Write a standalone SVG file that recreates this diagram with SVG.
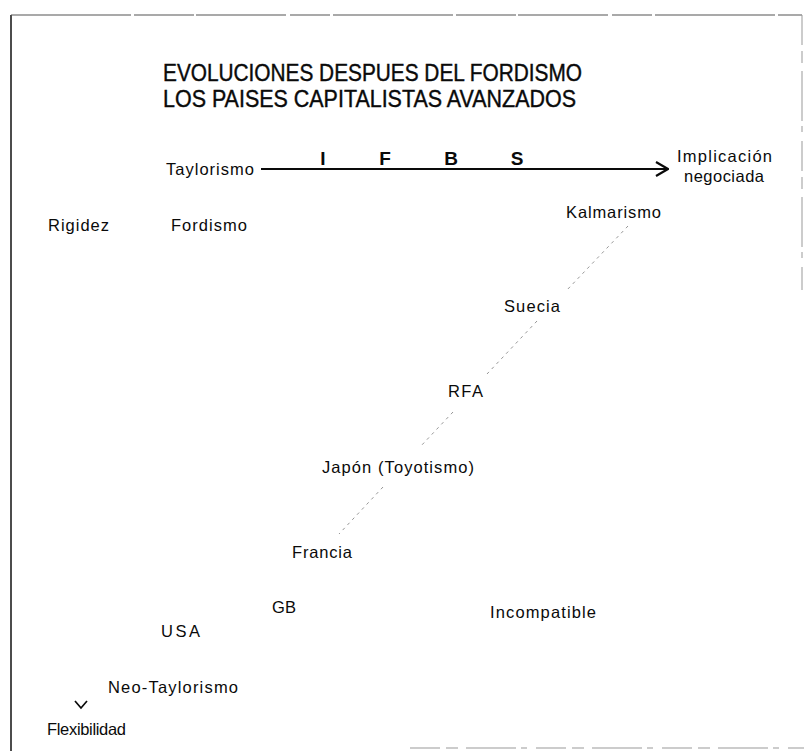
<svg xmlns="http://www.w3.org/2000/svg" width="804" height="751" viewBox="0 0 804 751">
<style>
  text { font-family: "Liberation Sans", Arial, sans-serif; fill: #0a0a0a; }
  .title { font-size: 23px; stroke: #0a0a0a; stroke-width: 0.4; }
  .lbl { font-size: 16.5px; }
  .big { font-size: 19px; font-weight: bold; }
  .frame { stroke: #111; stroke-width: 1.5; fill: none; }
  .frame-faint { stroke: #555; stroke-width: 1.1; fill: none; stroke-dasharray: 120 3 60 2 90 4 40 3; }
  .frame-light { stroke: #999; stroke-width: 1; fill: none; stroke-dasharray: 30 6 12 8 50 5 6 9; }
  .trend { stroke: #8a8a8a; stroke-width: 0.9; fill: none; stroke-dasharray: 3 4; }
  .axis { stroke: #0a0a0a; stroke-width: 2; fill: none; }
</style>
<defs>
  <marker id="open" viewBox="0 0 14 16" refX="13" refY="8" markerWidth="14" markerHeight="16" markerUnits="userSpaceOnUse" orient="auto">
    <polyline points="1,1 13,8 1,15" fill="none" stroke="#0a0a0a" stroke-width="2.2"/>
  </marker>
</defs>
<rect width="804" height="751" fill="#fff"/>

<g id="frame">
  <line class="frame" x1="11" y1="15" x2="11" y2="751"/>
  <line class="frame-faint" x1="11" y1="15" x2="802" y2="15"/>
  <line class="frame-light" x1="802" y1="15" x2="802" y2="290"/>
  <line class="frame-light" x1="410" y1="748" x2="804" y2="748"/>
</g>

<g id="title">
  <text class="title" x="163" y="81" textLength="419" lengthAdjust="spacingAndGlyphs">EVOLUCIONES DESPUES DEL FORDISMO</text>
  <text class="title" x="163" y="107" textLength="413" lengthAdjust="spacingAndGlyphs">LOS PAISES CAPITALISTAS AVANZADOS</text>
</g>

<g id="connectors">
  <line class="axis" x1="261" y1="169" x2="668" y2="169" marker-end="url(#open)"/>
  <polyline class="trend" points="628,226 566,291"/>
  <polyline class="trend" points="537,321 487,374"/>
  <polyline class="trend" points="453,412 420,447"/>
  <polyline class="trend" points="383,487 339,534"/>
  <polyline points="75,701 81,708 87,701" fill="none" stroke="#0a0a0a" stroke-width="1.7"/>
</g>

<g id="n-taylorismo"><text class="lbl" x="166" y="175" textLength="88">Taylorismo</text></g>
<g id="n-I"><text class="big" x="323" y="165" text-anchor="middle">I</text></g>
<g id="n-F"><text class="big" x="385" y="165" text-anchor="middle">F</text></g>
<g id="n-B"><text class="big" x="451" y="165" text-anchor="middle">B</text></g>
<g id="n-S"><text class="big" x="517" y="165" text-anchor="middle">S</text></g>
<g id="n-implicacion">
  <text class="lbl" x="677" y="162" textLength="95">Implicación</text>
  <text class="lbl" x="684" y="182" textLength="80">negociada</text>
</g>
<g id="n-rigidez"><text class="lbl" x="48" y="231" textLength="61">Rigidez</text></g>
<g id="n-fordismo"><text class="lbl" x="171" y="231" textLength="76">Fordismo</text></g>
<g id="n-kalmarismo"><text class="lbl" x="566" y="218" textLength="95">Kalmarismo</text></g>
<g id="n-suecia"><text class="lbl" x="504" y="312" textLength="56">Suecia</text></g>
<g id="n-rfa"><text class="lbl" x="448" y="397" textLength="35">RFA</text></g>
<g id="n-japon"><text class="lbl" x="322" y="473" textLength="152">Japón (Toyotismo)</text></g>
<g id="n-francia"><text class="lbl" x="292" y="558" textLength="60">Francia</text></g>
<g id="n-gb"><text class="lbl" x="272" y="613" textLength="24">GB</text></g>
<g id="n-incompatible"><text class="lbl" x="490" y="618" textLength="106">Incompatible</text></g>
<g id="n-usa"><text class="lbl" x="161" y="637" textLength="39">USA</text></g>
<g id="n-neo"><text class="lbl" x="108" y="693" textLength="130">Neo-Taylorismo</text></g>
<g id="n-flexibilidad"><text class="lbl" x="47" y="735" textLength="79">Flexibilidad</text></g>
</svg>
